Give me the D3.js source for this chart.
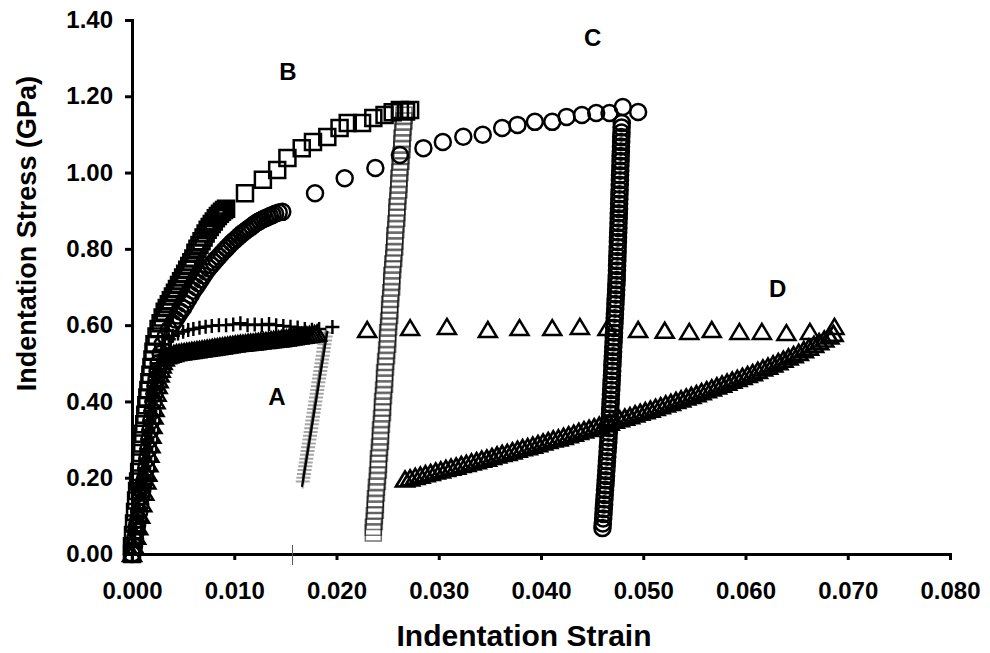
<!DOCTYPE html>
<html>
<head>
<meta charset="utf-8">
<script src="https://cdn.jsdelivr.net/npm/d3@7"></script>
<style>
  html, body { margin: 0; padding: 0; background: #fff; }
  svg text { font-family: "Liberation Sans", Arial, sans-serif; font-weight: bold; fill: #000; }
</style>
</head>
<body>
<svg id="chart" width="990" height="653"></svg>
<script>
// ---- axis ticks and titles ----
const xTicks = [0, 0.01, 0.02, 0.03, 0.04, 0.05, 0.06, 0.07, 0.08];
const yTicks = [0, 0.2, 0.4, 0.6, 0.8, 1.0, 1.2, 1.4];
const xTitle = "Indentation Strain";
const yTitle = "Indentation Stress (GPa)";

// ---- curve labels: [text, strain, stress] ----
const curveLabels = [["A", 0.01417, 0.412], ["B", 0.01525, 1.264], ["C", 0.04506, 1.353], ["D", 0.06315, 0.697]];

// ---- sample A (crosses): loading, unloading, fitted unloading line ----
const loadA = [[0,0],[0.0001,0.02],[0.0002,0.04],[0.0003,0.06],[0.0004,0.08],[0.0005,0.10],[0.0006,0.12],[0.0007,0.14],[0.0008,0.155],[0.0009,0.17],[0.0010,0.185],[0.0011,0.20],[0.0012,0.225],[0.0013,0.25],[0.0014,0.275],[0.0015,0.30],[0.0016,0.325],[0.0017,0.35],[0.0018,0.375],[0.0019,0.40],[0.0020,0.42],[0.0021,0.44],[0.0022,0.455],[0.0023,0.47],[0.0024,0.485],[0.0025,0.50],[0.0027,0.52],[0.0029,0.535],[0.0032,0.55],[0.0036,0.563],[0.0040,0.572],[0.0045,0.578],[0.0050,0.583],[0.0055,0.587],[0.0060,0.59],[0.0066,0.593],[0.0072,0.596],[0.0078,0.598],[0.0085,0.60],[0.0092,0.60],[0.0099,0.602],[0.0106,0.605],[0.0113,0.60],[0.0120,0.602],[0.0127,0.60],[0.0134,0.603],[0.0141,0.60],[0.0148,0.598],[0.0155,0.596],[0.0162,0.594],[0.0169,0.59],[0.0176,0.588],[0.0183,0.59],[0.0196,0.595]];
const unloadA = [[0.01900,0.58],[0.01894,0.57],[0.01888,0.56],[0.01882,0.55],[0.01876,0.54],[0.01871,0.53],[0.01865,0.52],[0.01859,0.51],[0.01853,0.50],[0.01847,0.49],[0.01841,0.48],[0.01835,0.47],[0.01829,0.46],[0.01823,0.45],[0.01817,0.44],[0.01812,0.43],[0.01806,0.42],[0.01800,0.41],[0.01794,0.40],[0.01788,0.39],[0.01782,0.38],[0.01776,0.37],[0.01770,0.36],[0.01764,0.35],[0.01758,0.34],[0.01753,0.33],[0.01747,0.32],[0.01741,0.31],[0.01735,0.30],[0.01729,0.29],[0.01723,0.28],[0.01717,0.27],[0.01711,0.26],[0.01705,0.25],[0.01699,0.24],[0.01694,0.23],[0.01688,0.22],[0.01682,0.21],[0.01676,0.20],[0.01670,0.19]];
const fitA = [[0.01912,0.585],[0.01662,0.176]];

// ---- sample B (squares) ----
const loadB = [[0,0],[0,0.02],[0.0001,0.05],[0.0002,0.08],[0.0003,0.11],[0.0004,0.14],[0.0005,0.165],[0.0006,0.19],[0.0007,0.215],[0.0008,0.24],[0.0009,0.265],[0.0010,0.29],[0.0011,0.315],[0.0012,0.34],[0.0013,0.365],[0.0014,0.39],[0.0015,0.41],[0.0016,0.43],[0.0017,0.45],[0.0018,0.47],[0.0019,0.49],[0.0020,0.51],[0.0021,0.53],[0.0022,0.55],[0.0024,0.57],[0.0026,0.59],[0.0028,0.605],[0.0030,0.62],[0.0032,0.635],[0.0034,0.645],[0.0036,0.655],[0.0038,0.665],[0.0040,0.675],[0.0042,0.685],[0.0044,0.695],[0.0046,0.705],[0.0048,0.715],[0.0050,0.725],[0.0052,0.735],[0.0054,0.745],[0.0056,0.755],[0.0058,0.765],[0.0060,0.775],[0.0062,0.79],[0.0064,0.80],[0.0066,0.81],[0.0068,0.82],[0.0070,0.83],[0.0072,0.84],[0.0074,0.85],[0.0076,0.857],[0.0078,0.865],[0.0080,0.872],[0.0082,0.88],[0.0084,0.886],[0.0086,0.892],[0.0088,0.897],[0.0090,0.902],[0.0092,0.905],[0.01105,0.946],[0.0128,0.981],[0.0142,1.007],[0.0152,1.038],[0.0166,1.064],[0.0177,1.08],[0.0191,1.093],[0.0203,1.117],[0.0211,1.13],[0.0225,1.13],[0.0236,1.143],[0.0247,1.151],[0.0255,1.158],[0.0262,1.164],[0.0268,1.16],[0.0272,1.164]];
const unloadB = [[0.0266,1.150],[0.0266,1.135],[0.0265,1.120],[0.0265,1.105],[0.0264,1.090],[0.0264,1.075],[0.0264,1.060],[0.0263,1.045],[0.0263,1.030],[0.0262,1.015],[0.0262,1.000],[0.0261,0.985],[0.0261,0.970],[0.0261,0.955],[0.0260,0.940],[0.0260,0.925],[0.0259,0.910],[0.0259,0.895],[0.0259,0.880],[0.0258,0.865],[0.0258,0.850],[0.0257,0.835],[0.0257,0.820],[0.0257,0.805],[0.0256,0.790],[0.0256,0.775],[0.0255,0.760],[0.0255,0.745],[0.0254,0.730],[0.0254,0.715],[0.0254,0.700],[0.0253,0.685],[0.0253,0.670],[0.0252,0.655],[0.0252,0.640],[0.0252,0.625],[0.0251,0.610],[0.0251,0.595],[0.0250,0.580],[0.0250,0.565],[0.0250,0.550],[0.0249,0.535],[0.0249,0.520],[0.0248,0.505],[0.0248,0.490],[0.0247,0.475],[0.0247,0.460],[0.0247,0.445],[0.0246,0.430],[0.0246,0.415],[0.0245,0.400],[0.0245,0.385],[0.0245,0.370],[0.0244,0.355],[0.0244,0.340],[0.0243,0.325],[0.0243,0.310],[0.0243,0.295],[0.0242,0.280],[0.0242,0.265],[0.0241,0.250],[0.0241,0.235],[0.0241,0.220],[0.0240,0.205],[0.0240,0.190],[0.0239,0.175],[0.0239,0.160],[0.0238,0.145],[0.0238,0.130],[0.0238,0.115],[0.0237,0.100],[0.0237,0.085],[0.0236,0.070],[0.0236,0.055]];

// ---- sample C (circles) ----
const loadC = [[0,0],[0.0002,0.02],[0.0003,0.04],[0.0004,0.06],[0.0005,0.075],[0.0006,0.09],[0.0007,0.11],[0.0008,0.13],[0.0009,0.15],[0.0010,0.165],[0.0011,0.18],[0.0012,0.19],[0.0013,0.20],[0.0014,0.225],[0.0015,0.25],[0.0016,0.275],[0.0017,0.30],[0.0018,0.325],[0.0019,0.35],[0.0020,0.375],[0.0021,0.40],[0.0022,0.42],[0.0023,0.44],[0.0024,0.46],[0.0025,0.48],[0.0026,0.50],[0.0028,0.525],[0.0030,0.55],[0.0033,0.57],[0.0036,0.588],[0.00400,0.605],[0.00425,0.615],[0.00450,0.625],[0.00475,0.635],[0.00500,0.645],[0.00525,0.656],[0.00550,0.668],[0.00575,0.679],[0.00600,0.690],[0.00625,0.700],[0.00650,0.710],[0.00675,0.720],[0.00700,0.730],[0.00725,0.740],[0.00750,0.749],[0.00775,0.757],[0.00800,0.765],[0.00825,0.773],[0.00850,0.780],[0.00875,0.788],[0.00900,0.795],[0.00925,0.802],[0.00950,0.809],[0.00975,0.816],[0.01000,0.822],[0.01025,0.828],[0.01050,0.834],[0.01075,0.840],[0.01100,0.845],[0.01125,0.850],[0.01150,0.855],[0.01175,0.860],[0.01200,0.865],[0.01225,0.869],[0.01250,0.873],[0.01275,0.877],[0.01300,0.880],[0.01325,0.883],[0.01350,0.886],[0.01375,0.889],[0.01400,0.892],[0.01435,0.895],[0.01470,0.897],[0.0179,0.946],[0.0208,0.985],[0.0238,1.012],[0.0262,1.046],[0.0285,1.064],[0.0304,1.08],[0.0324,1.094],[0.0343,1.099],[0.0362,1.117],[0.0377,1.125],[0.0394,1.133],[0.0411,1.133],[0.0425,1.146],[0.0440,1.151],[0.0454,1.156],[0.0467,1.156],[0.0480,1.172],[0.0495,1.159]];
const unloadC = [[0.04790,1.130],[0.04788,1.118],[0.04787,1.105],[0.04785,1.093],[0.04784,1.080],[0.04782,1.068],[0.04781,1.055],[0.04779,1.043],[0.04778,1.030],[0.04776,1.018],[0.04775,1.005],[0.04773,0.993],[0.04772,0.980],[0.04770,0.968],[0.04769,0.955],[0.04767,0.943],[0.04766,0.930],[0.04764,0.918],[0.04763,0.905],[0.04761,0.893],[0.04760,0.880],[0.04758,0.868],[0.04757,0.855],[0.04755,0.843],[0.04753,0.830],[0.04752,0.818],[0.04750,0.805],[0.04749,0.793],[0.04747,0.780],[0.04746,0.768],[0.04744,0.755],[0.04743,0.743],[0.04741,0.730],[0.04740,0.718],[0.04737,0.705],[0.04735,0.693],[0.04733,0.680],[0.04730,0.668],[0.04728,0.655],[0.04726,0.643],[0.04723,0.630],[0.04721,0.618],[0.04719,0.605],[0.04716,0.593],[0.04714,0.580],[0.04712,0.568],[0.04710,0.555],[0.04707,0.543],[0.04705,0.530],[0.04703,0.518],[0.04700,0.505],[0.04698,0.493],[0.04696,0.480],[0.04694,0.468],[0.04691,0.455],[0.04689,0.443],[0.04687,0.430],[0.04684,0.418],[0.04682,0.405],[0.04680,0.393],[0.04677,0.380],[0.04675,0.368],[0.04673,0.355],[0.04670,0.343],[0.04666,0.330],[0.04663,0.318],[0.04660,0.305],[0.04658,0.293],[0.04654,0.280],[0.04651,0.268],[0.04648,0.255],[0.04645,0.243],[0.04642,0.230],[0.04639,0.218],[0.04636,0.205],[0.04633,0.193],[0.04630,0.180],[0.04626,0.168],[0.04623,0.155],[0.04620,0.143],[0.04617,0.130],[0.04614,0.118],[0.04611,0.105],[0.04608,0.093],[0.04604,0.080],[0.04601,0.068]];

// ---- sample D (triangles) ----
const loadD = [[0,0],[0.0002,0.02],[0.0004,0.045],[0.0006,0.07],[0.0008,0.10],[0.0010,0.13],[0.0012,0.16],[0.0014,0.19],[0.0015,0.21],[0.0016,0.235],[0.0017,0.26],[0.0018,0.285],[0.0019,0.31],[0.0020,0.335],[0.0021,0.36],[0.0022,0.38],[0.0023,0.40],[0.0024,0.42],[0.0025,0.44],[0.0026,0.455],[0.0027,0.47],[0.0028,0.483],[0.0029,0.494],[0.0030,0.503],[0.0032,0.512],[0.0034,0.518],[0.00360,0.520],[0.00385,0.522],[0.00410,0.524],[0.00435,0.526],[0.00460,0.527],[0.00485,0.528],[0.00510,0.529],[0.00535,0.530],[0.00560,0.531],[0.00585,0.532],[0.00610,0.533],[0.00635,0.534],[0.00660,0.535],[0.00685,0.536],[0.00710,0.537],[0.00735,0.538],[0.00760,0.539],[0.00785,0.540],[0.00810,0.541],[0.00835,0.542],[0.00860,0.543],[0.00885,0.544],[0.00910,0.545],[0.00935,0.546],[0.00960,0.547],[0.00985,0.548],[0.01010,0.549],[0.01035,0.550],[0.01060,0.551],[0.01085,0.551],[0.01110,0.552],[0.01135,0.553],[0.01160,0.554],[0.01185,0.554],[0.01210,0.555],[0.01235,0.556],[0.01260,0.557],[0.01285,0.558],[0.01310,0.558],[0.01335,0.559],[0.01360,0.560],[0.01385,0.561],[0.01410,0.562],[0.01435,0.562],[0.01460,0.563],[0.01485,0.564],[0.01510,0.565],[0.01535,0.566],[0.01560,0.567],[0.01585,0.568],[0.01610,0.569],[0.01635,0.570],[0.01660,0.571],[0.01685,0.572],[0.01710,0.573],[0.01735,0.574],[0.01760,0.575],[0.01785,0.576],[0.01810,0.578],[0.0230,0.587],[0.0272,0.592],[0.0308,0.595],[0.0348,0.587],[0.0379,0.592],[0.0411,0.592],[0.0438,0.595],[0.0465,0.592],[0.0495,0.587],[0.0521,0.585],[0.0545,0.582],[0.0567,0.587],[0.0594,0.582],[0.0616,0.582],[0.0640,0.579],[0.0663,0.582],[0.0687,0.595]];
const unloadD = [[0.0267,0.195],[0.0272,0.198],[0.0277,0.202],[0.0282,0.205],[0.0287,0.209],[0.0292,0.212],[0.0297,0.216],[0.0302,0.219],[0.0307,0.223],[0.0312,0.226],[0.0317,0.229],[0.0322,0.233],[0.0327,0.236],[0.0332,0.240],[0.0337,0.243],[0.0342,0.247],[0.0347,0.250],[0.0352,0.254],[0.0357,0.258],[0.0362,0.262],[0.0367,0.265],[0.0372,0.269],[0.0377,0.273],[0.0382,0.277],[0.0387,0.280],[0.0392,0.284],[0.0397,0.288],[0.0402,0.292],[0.0407,0.296],[0.0412,0.300],[0.0417,0.303],[0.0422,0.307],[0.0427,0.311],[0.0432,0.315],[0.0437,0.320],[0.0442,0.324],[0.0447,0.328],[0.0452,0.332],[0.0457,0.336],[0.0462,0.340],[0.0467,0.344],[0.0472,0.349],[0.0477,0.353],[0.0482,0.357],[0.0487,0.361],[0.0492,0.366],[0.0497,0.370],[0.0502,0.374],[0.0507,0.378],[0.0512,0.383],[0.0517,0.387],[0.0522,0.392],[0.0527,0.396],[0.0532,0.401],[0.0537,0.405],[0.0542,0.410],[0.0547,0.414],[0.0552,0.419],[0.0557,0.424],[0.0562,0.429],[0.0567,0.434],[0.0572,0.439],[0.0577,0.444],[0.0582,0.449],[0.0587,0.454],[0.0592,0.459],[0.0597,0.464],[0.0602,0.469],[0.0607,0.474],[0.0612,0.480],[0.0617,0.486],[0.0622,0.491],[0.0627,0.497],[0.0632,0.503],[0.0637,0.509],[0.0642,0.515],[0.0647,0.521],[0.0652,0.527],[0.0657,0.534],[0.0662,0.541],[0.0667,0.548],[0.0672,0.555],[0.0677,0.562],[0.0682,0.570],[0.0686,0.577]];

// stray tick on the strain axis
const strayTick = 0.0157;

// ---- scales ----
const svg = d3.select("#chart");
const x = d3.scaleLinear().domain([0, 0.08]).range([132, 950]);
const y = d3.scaleLinear().domain([0, 1.4]).range([554, 20]);

// ---- marker shapes ----
const plus = { draw(ctx, size) { const r = Math.sqrt(size) / 2; ctx.moveTo(-r, 0); ctx.lineTo(r, 0); ctx.moveTo(0, -r); ctx.lineTo(0, r); } };
const tri = { draw(ctx, size) { const w = Math.sqrt(size) / 2, h = w * 0.9; ctx.moveTo(0, -h); ctx.lineTo(w, h * 0.85); ctx.lineTo(-w, h * 0.85); ctx.closePath(); } };
const shapes = {
  square: d3.symbol().type(d3.symbolSquare).size(16 * 16)(),
  circle: d3.symbol().type(d3.symbolCircle).size(Math.PI * 8 * 8)(),
  triangle: d3.symbol().type(tri).size(18 * 18)(),
  plus: d3.symbol().type(plus).size(14 * 14)()
};

function drawMarkers(data, shape, stroke, width, opacity) {
  svg.append("g")
    .selectAll("path")
    .data(data)
    .join("path")
    .attr("d", shapes[shape])
    .attr("transform", d => `translate(${x(d[0])},${y(d[1])})`)
    .attr("fill", "none")
    .attr("stroke", stroke)
    .attr("stroke-width", width)
    .attr("stroke-opacity", opacity);
}

// ---- axes ----
const fontStyle = sel => sel.attr("font-family", null).attr("font-size", null);

const xAxis = svg.append("g")
  .attr("transform", `translate(0,${y(0)})`)
  .call(d3.axisBottom(x).tickValues(xTicks).tickFormat(d3.format(".3f")).tickSize(6).tickSizeOuter(0).tickPadding(22))
  .call(fontStyle);
const yAxis = svg.append("g")
  .attr("transform", `translate(${x(0)},0)`)
  .call(d3.axisLeft(y).tickValues(yTicks).tickFormat(d3.format(".2f")).tickSize(7).tickSizeOuter(0).tickPadding(12))
  .call(fontStyle);

[xAxis, yAxis].forEach(a => {
  a.select(".domain").attr("stroke", "#000").attr("stroke-width", 3).attr("stroke-linecap", "square");
  a.selectAll(".tick line").attr("stroke", "#000").attr("stroke-width", 3);
  a.selectAll(".tick text").style("font-size", "24px");
});

svg.append("line")
  .attr("x1", x(strayTick)).attr("x2", x(strayTick))
  .attr("y1", y(0) - 9).attr("y2", y(0) + 11)
  .attr("stroke", "#555").attr("stroke-width", 1);

// ---- titles ----
svg.append("text")
  .attr("x", 524)
  .attr("y", 646)
  .attr("text-anchor", "middle")
  .style("font-size", "30px")
  .text(xTitle);

svg.append("text")
  .attr("transform", `translate(36,${y(0.84)}) rotate(-90)`)
  .attr("text-anchor", "middle")
  .style("font-size", "27px")
  .text(yTitle);

// ---- data markers ----
drawMarkers(loadA, "plus", "#000", 2.4, 1);
drawMarkers(unloadA, "plus", "#000", 2, 0.35);
svg.append("path")
  .datum(fitA)
  .attr("d", d3.line().x(d => x(d[0])).y(d => y(d[1])))
  .attr("fill", "none").attr("stroke", "#000").attr("stroke-width", 2.2);

drawMarkers(loadB, "square", "#000", 2.5, 1);
drawMarkers(unloadB, "square", "#000", 1.5, 0.55);

drawMarkers(loadC, "circle", "#000", 2.5, 1);
drawMarkers(unloadC, "circle", "#000", 2.6, 1);

drawMarkers(loadD, "triangle", "#000", 2.5, 1);
drawMarkers(unloadD, "triangle", "#000", 2.7, 1);

// ---- curve labels ----
svg.append("g")
  .selectAll("text")
  .data(curveLabels)
  .join("text")
  .attr("x", d => x(d[1]))
  .attr("y", d => y(d[2]))
  .attr("text-anchor", "middle")
  .attr("dominant-baseline", "central")
  .style("font-size", "24px")
  .text(d => d[0]);
</script>
</body>
</html>
